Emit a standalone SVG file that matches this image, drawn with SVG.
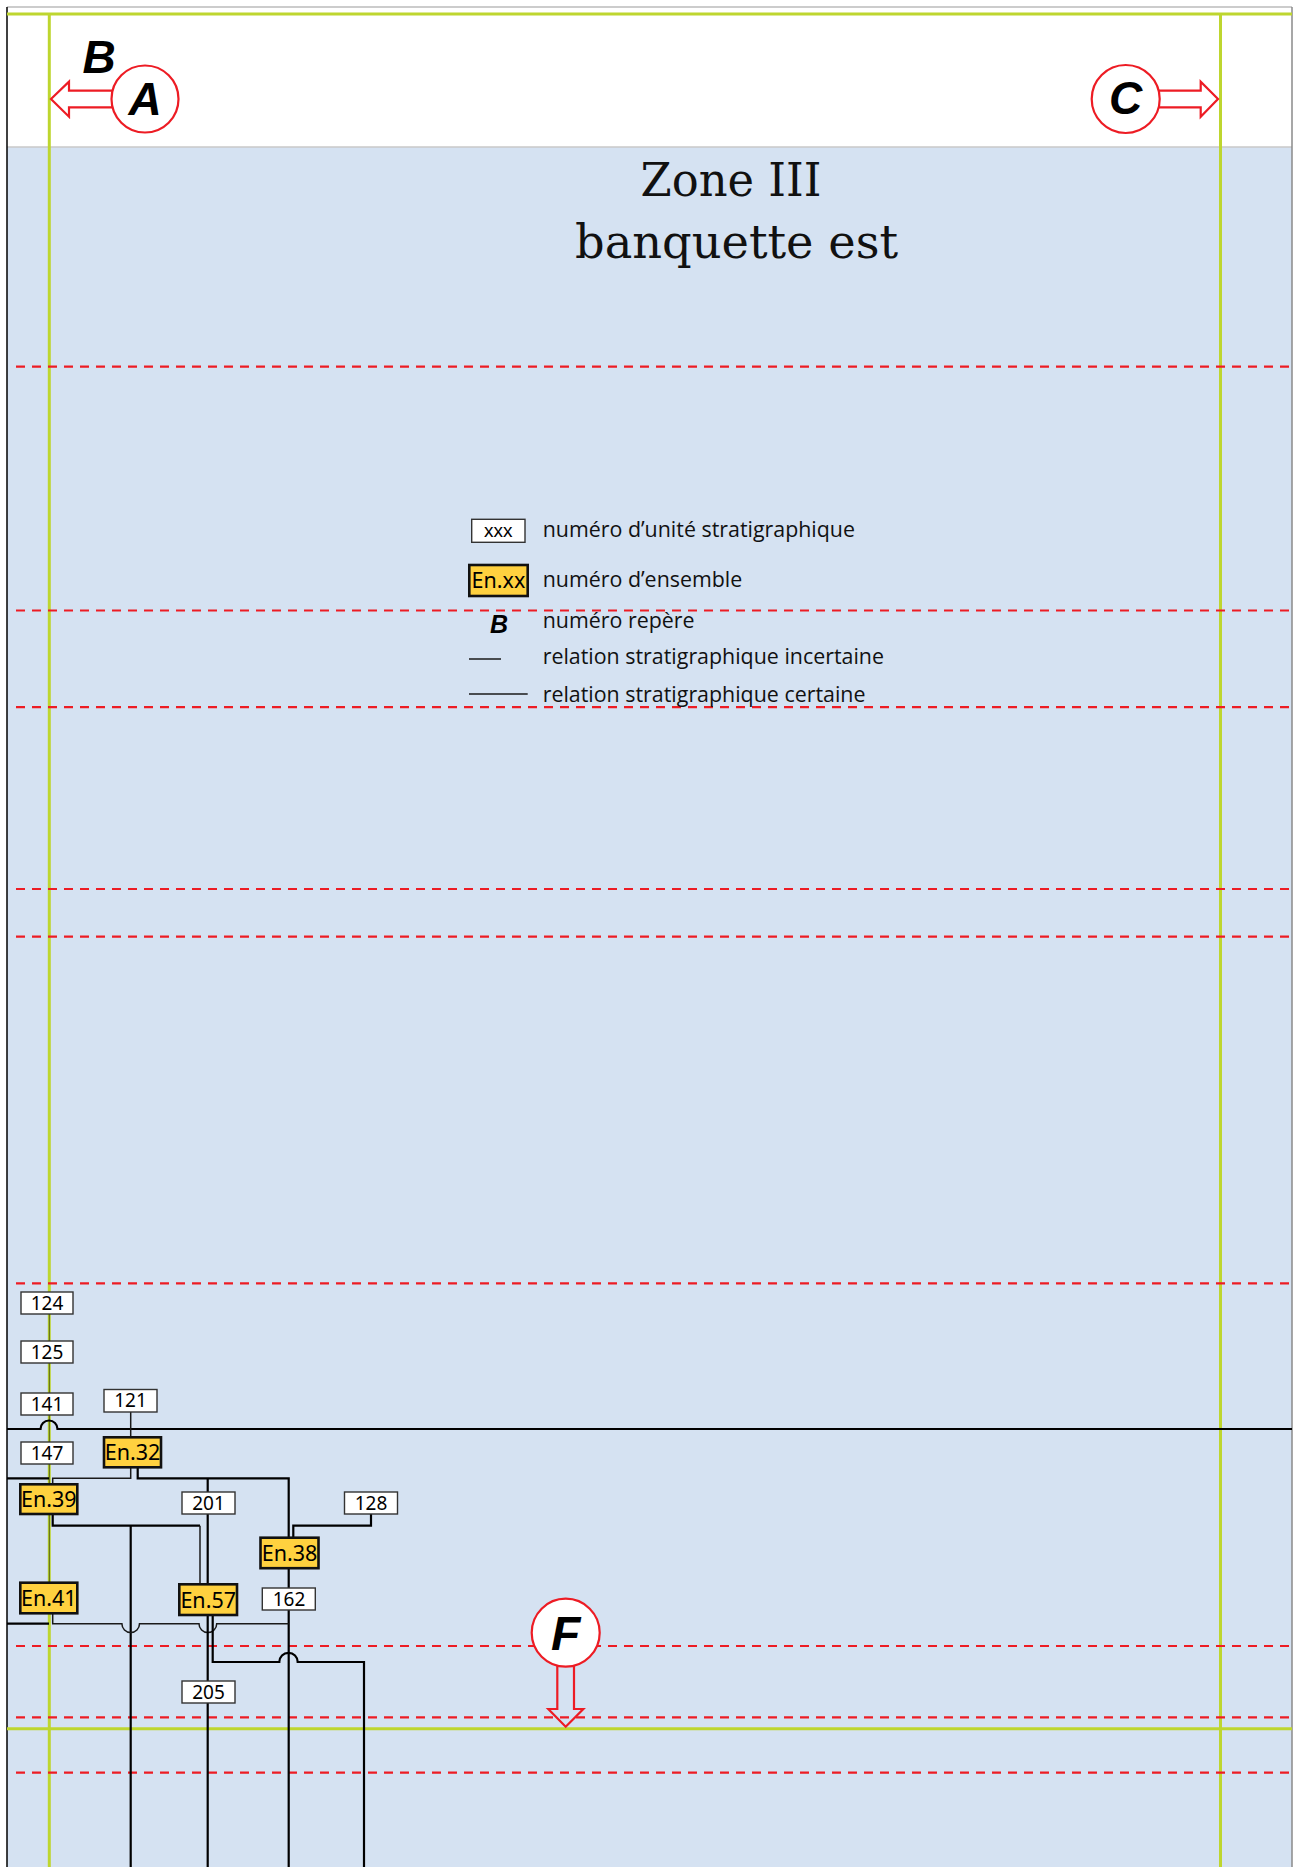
<svg xmlns="http://www.w3.org/2000/svg" width="1295" height="1867" viewBox="0 0 1295 1867">
<style>
.dash{stroke:#ED1C24;stroke-width:2.2;stroke-dasharray:9 7;fill:none}
.green{stroke:#BED62F;stroke-width:3;fill:none}
.thick{stroke:#000;stroke-width:2.2;fill:none}
.thin{stroke:#1a1a1a;stroke-width:1.5;fill:none}
.us rect{fill:#fff;stroke:#333;stroke-width:1.4}
.us text{font-family:"Noto Sans","Liberation Sans",sans-serif;font-size:19px;text-anchor:middle;fill:#000}
.en rect{fill:#FFD13F;stroke:#111;stroke-width:2.6}
.en text{font-family:"Noto Sans","Liberation Sans",sans-serif;font-size:21.5px;text-anchor:middle;fill:#000}
.leg{font-family:"Open Sans","Noto Sans",sans-serif;font-size:21.4px;fill:#111}
.rep{font-family:"Liberation Sans",Arial,sans-serif;font-weight:bold;font-style:italic;fill:#000;text-anchor:middle}
.red{stroke:#ED1C24;stroke-width:2.2}
.title{font-family:"DejaVu Serif","Liberation Serif",serif;font-size:46px;text-anchor:middle;fill:#111}
</style>
<rect x="0" y="0" width="1295" height="1867" fill="#fff"/>
<rect x="7" y="147" width="1285" height="1720" fill="#D5E2F2"/>
<line x1="7" y1="147" x2="1292" y2="147" stroke="#C8C8C8" stroke-width="1.6"/>
<line x1="7" y1="7" x2="1292" y2="7" stroke="#9a9a9a" stroke-width="1.2"/>
<line x1="7" y1="7" x2="7" y2="1867" stroke="#000" stroke-width="1.5"/>
<line x1="1292" y1="7" x2="1292" y2="1867" stroke="#8a8a8a" stroke-width="1.5"/>

<g id="grid">
<line class="green" x1="7" y1="14" x2="1292" y2="14"/>
<line class="green" x1="49.3" y1="14" x2="49.3" y2="1867"/>
<line class="green" x1="1220.5" y1="14" x2="1220.5" y2="1867"/>
<line class="green" x1="7" y1="1728.7" x2="1292" y2="1728.7"/>
<line class="dash" x1="16" y1="366.6" x2="1289" y2="366.6"/>
<line class="dash" x1="16" y1="610.5" x2="1289" y2="610.5"/>
<line class="dash" x1="16" y1="707.2" x2="1289" y2="707.2"/>
<line class="dash" x1="16" y1="889" x2="1289" y2="889"/>
<line class="dash" x1="16" y1="936.7" x2="1289" y2="936.7"/>
<line class="dash" x1="16" y1="1283.3" x2="1289" y2="1283.3"/>
<line class="dash" x1="16" y1="1646" x2="1289" y2="1646"/>
<line class="dash" x1="16" y1="1717.3" x2="1289" y2="1717.3"/>
<line class="dash" x1="16" y1="1772.7" x2="1289" y2="1772.7"/>
</g>

<g id="title">
<text class="title" x="731" y="196" textLength="181" lengthAdjust="spacingAndGlyphs">Zone III</text>
<text class="title" x="736.5" y="258" textLength="323" lengthAdjust="spacingAndGlyphs">banquette est</text>
</g>

<g id="repere-B"><text class="rep" x="99" y="73" font-size="46">B</text></g>
<g id="repere-A">
<polygon class="red" fill="#fff" points="51,99 69,81.7 69,90.7 113,90.7 113,107.3 69,107.3 69,116.7"/>
<circle class="red" cx="145" cy="99" r="33.5" fill="#fff"/>
<text class="rep" x="145" y="115" font-size="46">A</text>
</g>
<g id="repere-C">
<polygon class="red" fill="#fff" points="1218,99 1200.7,81.7 1200.7,90.7 1157,90.7 1157,107.3 1200.7,107.3 1200.7,116.7"/>
<circle class="red" cx="1125.7" cy="99" r="34" fill="#fff"/>
<text class="rep" x="1125.7" y="114" font-size="46">C</text>
</g>

<g id="legend">
<g class="us"><rect x="471.7" y="519.3" width="53.3" height="23"/></g>
<text x="498.3" y="537" font-family="Liberation Sans, Arial, sans-serif" font-size="19" text-anchor="middle">xxx</text>
<text class="leg" x="542.7" y="536.7">numéro d’unité stratigraphique</text>
<g class="en"><rect x="469.3" y="565" width="58.4" height="31"/></g>
<text x="498.5" y="588" font-family="Noto Sans, sans-serif" font-size="21.5" text-anchor="middle">En.xx</text>
<text class="leg" x="542.7" y="587.3">numéro d’ensemble</text>
<text class="rep" x="499" y="632.7" font-size="25">B</text>
<text class="leg" x="542.7" y="627.7">numéro repère</text>
<line class="thin" x1="469" y1="659" x2="501" y2="659"/>
<text class="leg" x="542.7" y="664.3">relation stratigraphique incertaine</text>
<line class="thin" x1="469" y1="694" x2="527.7" y2="694"/>
<text class="leg" x="542.7" y="702">relation stratigraphique certaine</text>
</g>

<g id="connectors">
<path stroke="#000" stroke-width="1" opacity="0.55" fill="none" d="M49.3 1314V1341M49.3 1363V1393M49.3 1415V1442M49.3 1464V1484M49.3 1514V1583"/>
<path class="thick" d="M7 1429H40.5A8.5 8.5 0 0 1 57.5 1429H1292"/>
<path class="thin" d="M130.7 1412V1437"/>
<path class="thick" d="M7 1478.3H49"/>
<path class="thin" d="M130.7 1467V1478.3H52.7V1484"/>
<path class="thick" d="M137.7 1467V1478.3H288.7V1538"/>
<path class="thick" d="M207.7 1478.3V1492"/>
<path class="thick" d="M52.7 1514V1525.7H200"/>
<path class="thin" d="M200 1525.7V1584"/>
<path class="thick" d="M130.7 1525.7V1867"/>
<path class="thick" d="M207.7 1514V1584"/>
<path class="thick" d="M371 1514V1525.7H293.3V1538"/>
<path class="thick" d="M288.7 1568V1588"/>
<path class="thick" d="M288.7 1610V1867"/>
<path class="thick" d="M7 1623.7H49"/>
<path class="thin" d="M52.7 1613V1623.7H121.9A8.8 8.8 0 0 0 139.5 1623.7H199A8.85 8.85 0 0 0 216.7 1623.7H288.7"/>
<path class="thick" d="M212.7 1615V1662H279.3A9.2 9.2 0 0 1 297.7 1662H364V1867"/>
<path class="thick" d="M207.7 1615V1681"/>
<path class="thick" d="M207.7 1703V1867"/>
</g>

<g id="us124" class="us"><rect x="21" y="1292" width="52" height="22"/><text x="47" y="1309.7">124</text></g>
<g id="us125" class="us"><rect x="21" y="1341" width="52" height="22"/><text x="47" y="1358.7">125</text></g>
<g id="us141" class="us"><rect x="21" y="1393" width="52" height="22"/><text x="47" y="1410.7">141</text></g>
<g id="us147" class="us"><rect x="21" y="1442" width="52" height="22"/><text x="47" y="1459.7">147</text></g>
<g id="us121" class="us"><rect x="104" y="1389.5" width="53" height="22.5"/><text x="130.5" y="1407.2">121</text></g>
<g id="us201" class="us"><rect x="182" y="1492" width="53" height="22"/><text x="208.5" y="1509.7">201</text></g>
<g id="us128" class="us"><rect x="344.5" y="1492" width="53" height="22"/><text x="371" y="1509.7">128</text></g>
<g id="us162" class="us"><rect x="262.3" y="1588" width="53" height="22"/><text x="289" y="1605.7">162</text></g>
<g id="us205" class="us"><rect x="182" y="1681" width="53" height="22"/><text x="208.5" y="1698.7">205</text></g>

<g id="en32" class="en"><rect x="104" y="1437.3" width="57" height="30"/><text x="132.5" y="1460">En.32</text></g>
<g id="en39" class="en"><rect x="20.3" y="1484.3" width="57" height="29.7"/><text x="48.8" y="1507">En.39</text></g>
<g id="en38" class="en"><rect x="260.5" y="1537.7" width="58" height="30.5"/><text x="289.5" y="1560.5">En.38</text></g>
<g id="en41" class="en"><rect x="20.3" y="1582.7" width="57" height="30.6"/><text x="48.8" y="1605.5">En.41</text></g>
<g id="en57" class="en"><rect x="179.3" y="1584.3" width="57.7" height="30.7"/><text x="208.2" y="1607.5">En.57</text></g>

<g id="repere-F">
<polygon class="red" fill="none" points="557.3,1664 557.3,1709 548.3,1709 565.7,1726.7 583.3,1709 574,1709 574,1664"/>
<circle class="red" cx="565.7" cy="1632.7" r="34" fill="#fff"/>
<text class="rep" x="565.7" y="1650" font-size="48">F</text>
</g>
</svg>
